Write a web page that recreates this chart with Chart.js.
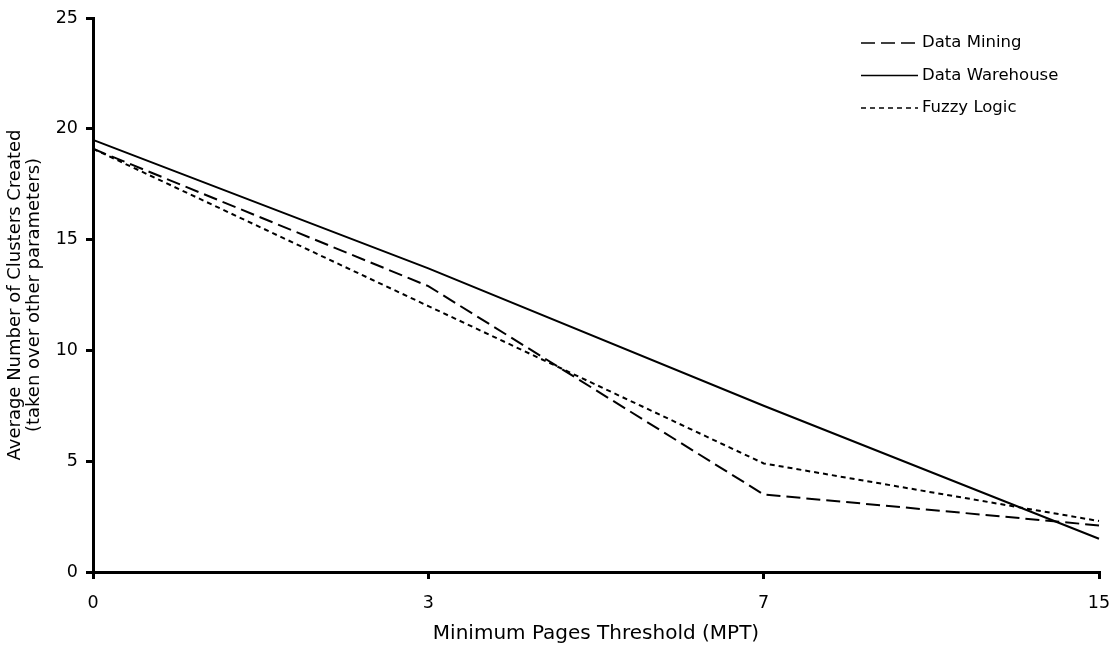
<!DOCTYPE html>
<html>
<head>
<meta charset="utf-8">
<script src="https://cdn.jsdelivr.net/npm/chart.js@4/dist/chart.umd.min.js"></script>
<style>
  html, body { margin: 0; padding: 0; background: #fff; }
  #wrap { width: 1118px; height: 656px; }
</style>
</head>
<body>
<div id="wrap"><canvas id="chartMpt"></canvas></div>
<script>
const limiares = ["0", "3", "7", "15"];

const dataMining = [19.1, 12.9, 3.5, 2.1];
const dataWarehouse = [19.5, 13.7, 7.5, 1.5];
const fuzzyLogic = [19.1, 12.0, 4.9, 2.3];

const series = [
  { label: "Data Mining", data: dataMining, dash: [14, 6] },
  { label: "Data Warehouse", data: dataWarehouse, dash: [] },
  { label: "Fuzzy Logic", data: fuzzyLogic, dash: [5, 4] },
];

const fonte = "'DejaVu Sans', Verdana, sans-serif";

// legenda vertical no canto superior direito
const legendaLinhas = {
  id: "legendaLinhas",
  afterDraw(chart) {
    const ctx = chart.ctx;
    const x0 = 861, x1 = 918;
    let y = 43;
    ctx.save();
    ctx.font = "16.5px " + fonte;
    ctx.fillStyle = "#000";
    ctx.textBaseline = "middle";
    series.forEach((s) => {
      ctx.beginPath();
      ctx.setLineDash(s.dash);
      ctx.lineWidth = 1.5;
      ctx.strokeStyle = "#000";
      ctx.moveTo(x0, y);
      ctx.lineTo(x1, y);
      ctx.stroke();
      ctx.fillText(s.label, x1 + 4, y);
      y += 32.5;
    });
    ctx.restore();
  },
};

const ctxMpt = document.getElementById("chartMpt").getContext("2d");
new Chart(ctxMpt, {
  type: "line",
  data: {
    labels: limiares,
    datasets: series.map((s) => ({
      label: s.label,
      data: s.data,
      borderColor: "#000",
      borderWidth: 2,
      borderDash: s.dash,
      pointRadius: 0,
      tension: 0,
      fill: false,
    })),
  },
  options: {
    responsive: true,
    maintainAspectRatio: false,
    animation: false,
    layout: { padding: { top: 18, right: 19, left: 0, bottom: 0 } },
    plugins: {
      legend: { display: false },
      tooltip: { enabled: false },
    },
    scales: {
      x: {
        offset: false,
        border: { color: "#000", width: 3 },
        grid: { drawOnChartArea: false, drawTicks: true, tickLength: 7, color: "#000", lineWidth: 3 },
        ticks: { color: "#000", font: { family: fonte, size: 17.5 }, padding: 14, maxRotation: 0 },
        title: {
          display: true,
          text: "Minimum Pages Threshold (MPT)",
          color: "#000",
          font: { family: fonte, size: 20, lineHeight: 1.2 },
          padding: { top: 4, bottom: 10 },
        },
        afterFit(scale) {
          scale.height = 84;
          scale.paddingLeft = 0;
          scale.paddingRight = 0;
        },
      },
      y: {
        min: 0,
        max: 25,
        border: { color: "#000", width: 3 },
        grid: { drawOnChartArea: false, drawTicks: true, tickLength: 7, color: "#000", lineWidth: 3 },
        ticks: { stepSize: 5, color: "#000", font: { family: fonte, size: 17.5 }, padding: 8 },
        title: {
          display: true,
          text: ["Average Number of Clusters Created", "(taken over other parameters)"],
          color: "#000",
          font: { family: fonte, size: 18, lineHeight: 1.1 },
          padding: { top: 5, bottom: 0 },
        },
        afterFit(scale) {
          scale.width = 93;
          scale.paddingTop = 0;
          scale.paddingBottom = 0;
        },
      },
    },
  },
  plugins: [legendaLinhas],
});
</script>
</body>
</html>
